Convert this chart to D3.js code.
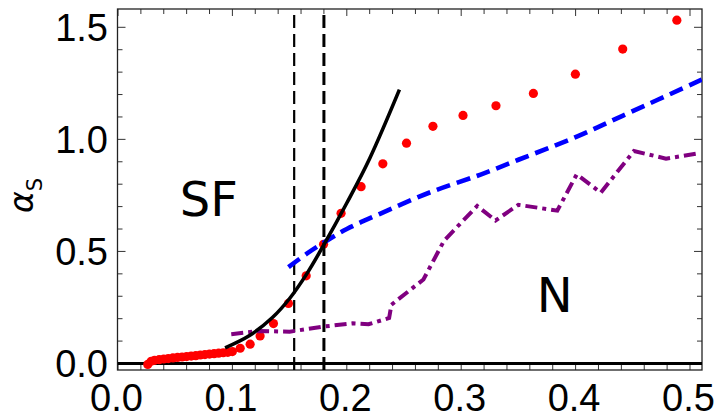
<!DOCTYPE html>
<html><head><meta charset="utf-8">
<script src="https://cdn.jsdelivr.net/npm/d3@7/dist/d3.min.js"></script>
<style>body{margin:0;background:#fff}</style>
</head><body>
<svg id="c" width="715" height="418"></svg>
<script>
// ---- data ----
const xTickValues = [0, 0.1, 0.2, 0.3, 0.4, 0.5];
const xTickLabels = ["0.0", "0.1", "0.2", "0.3", "0.4", "0.5"];
const yTickValues = [0, 0.5, 1.0, 1.5];
const yTickLabels = ["0.0", "0.5", "1.0", "1.5"];

// red dots (data points)
const dotX = [0.026,0.029,0.032,0.036,0.040,0.044,0.048,0.052,0.056,0.060,0.064,0.068,0.072,0.076,0.080,0.084,0.088,0.092,0.096,0.100,
              0.1068,0.1155,0.1242,0.1359,0.149,0.1645,0.1797,0.195,0.2125,0.2315,0.2522,0.2753,0.3016,0.3304,0.3631,0.3998,0.4412,0.4885];
const dotY = [-0.004,0.010,0.014,0.017,0.020,0.022,0.025,0.027,0.029,0.031,0.033,0.035,0.038,0.040,0.042,0.044,0.046,0.048,0.050,0.053,
              0.068,0.086,0.123,0.178,0.268,0.391,0.532,0.670,0.789,0.891,0.983,1.058,1.107,1.150,1.205,1.291,1.403,1.532];

// black solid curve
const blackX = [0.0936,0.115,0.135,0.150,0.165,0.180,0.200,0.220,0.246];
const blackY = [0.070,0.125,0.205,0.290,0.400,0.530,0.716,0.915,1.222];

// blue dashed curve
const blueX = [0.149,0.165,0.180,0.200,0.229,0.273,0.317,0.350,0.400,0.441,0.511];
const blueY = [0.430,0.490,0.540,0.600,0.668,0.764,0.843,0.909,1.010,1.105,1.268];

// purple dash-dot line
const purpleX = [0.099,0.124,0.150,0.180,0.205,0.219,0.237,0.239,0.267,0.285,0.314,0.330,0.350,0.384,0.401,0.422,0.451,0.479,0.509];
const purpleY = [0.131,0.145,0.142,0.165,0.179,0.175,0.203,0.262,0.375,0.548,0.703,0.638,0.708,0.682,0.844,0.762,0.948,0.914,0.939];

// vertical dashed markers
const vlines = [0.154, 0.180];

// region labels
const regionNames = ["SF", "N"];
const regionX = [0.054, 0.366];
const regionY = [0.657, 0.230];

// ---- drawing ----
const svg = d3.select("#c");
const L = 117.5, R = 702, T = 9, B = 370;
const x = d3.scaleLinear().domain([0, 0.5]).range([118, 690]);
const y = d3.scaleLinear().domain([0, 1.5]).range([363.5, 27.3]);

svg.append("defs").append("clipPath").attr("id", "clip")
  .append("rect").attr("x", L).attr("y", T).attr("width", R - L).attr("height", B - T);

// ticks (inward)
const xMinor = x.ticks(25).filter(v => !xTickValues.some(m => Math.abs(m - v) < 1e-9));
const yMinor = y.ticks(15).filter(v => !yTickValues.some(m => Math.abs(m - v) < 1e-9));
const tickG = svg.append("g").attr("stroke", "#333").attr("stroke-width", 1);
function hTicks(vals, yy, len) {
  tickG.selectAll(null).data(vals).enter().append("line")
    .attr("x1", d => x(d)).attr("x2", d => x(d))
    .attr("y1", yy).attr("y2", yy + len);
}
function vTicks(vals, xx, len) {
  tickG.selectAll(null).data(vals).enter().append("line")
    .attr("y1", d => y(d)).attr("y2", d => y(d))
    .attr("x1", xx).attr("x2", xx + len);
}
hTicks(xTickValues, B, -8);
hTicks(xMinor.filter(v => v <= 0.51), B, -5);
hTicks(xTickValues, T, 7);
hTicks(xMinor.filter(v => v <= 0.51), T, 5);
vTicks(yTickValues, L, 8);
vTicks(yMinor, L, 5);
vTicks(yTickValues, R, -8);
vTicks(yMinor, R, -5);

// frame
svg.append("rect").attr("x", L).attr("y", T).attr("width", R - L).attr("height", B - T)
  .attr("fill", "none").attr("stroke", "#222").attr("stroke-width", 1.3);

const plot = svg.append("g").attr("clip-path", "url(#clip)");

// zero line
plot.append("line").attr("x1", L).attr("x2", R).attr("y1", y(0)).attr("y2", y(0))
  .attr("stroke", "#000").attr("stroke-width", 3.2);

// red dots
plot.selectAll("circle.d").data(dotX.map((v, i) => [v, dotY[i]])).enter().append("circle")
  .attr("cx", d => x(d[0])).attr("cy", d => y(d[1])).attr("r", 4.6).attr("fill", "#ff0000");

// vertical dashed lines
plot.selectAll("line.v").data(vlines).enter().append("line")
  .attr("x1", d => x(d)).attr("x2", d => x(d)).attr("y1", B).attr("y2", T)
  .attr("stroke", "#000").attr("stroke-width", (d, i) => i === 0 ? 2.2 : 3)
  .attr("stroke-dasharray", "13,6");

const lin = d3.line().x(d => x(d[0])).y(d => y(d[1]));
const smooth = d3.line().x(d => x(d[0])).y(d => y(d[1])).curve(d3.curveCatmullRom.alpha(0.5));

plot.append("path").datum(purpleX.map((v, i) => [v, purpleY[i]]))
  .attr("d", lin).attr("fill", "none").attr("stroke", "#800080")
  .attr("stroke-width", 4).attr("stroke-dasharray", "12,5,4,5");

plot.append("path").datum(blueX.map((v, i) => [v, blueY[i]]))
  .attr("d", smooth).attr("fill", "none").attr("stroke", "#0000ff")
  .attr("stroke-width", 4.6).attr("stroke-dasharray", "14,7");

plot.append("path").datum(blackX.map((v, i) => [v, blackY[i]]))
  .attr("d", smooth)
  .attr("fill", "none").attr("stroke", "#000").attr("stroke-width", 3.6);

// tick labels
const font = "'Liberation Sans', Arial, sans-serif";
svg.selectAll("text.xl").data(xTickValues).enter().append("text")
  .attr("x", d => x(d) - 1.5).attr("y", 411).attr("text-anchor", "middle")
  .attr("font-family", font).attr("font-size", 38).text((d, i) => xTickLabels[i]);
svg.selectAll("text.yl").data(yTickValues).enter().append("text")
  .attr("x", 108).attr("y", d => y(d) + 13.5).attr("text-anchor", "end")
  .attr("font-family", font).attr("font-size", 38).text((d, i) => yTickLabels[i]);

// axis title alpha_S
const yt = svg.append("text").attr("transform", "translate(33,213) rotate(-90)")
  .attr("font-family", "'DejaVu Sans', sans-serif").attr("font-size", 33);
yt.append("tspan").attr("font-style", "italic").text("α");
yt.append("tspan").attr("font-size", 21).attr("dy", 9).text("S");

// region labels
svg.selectAll("text.r").data(regionNames).enter().append("text")
  .attr("x", (d, i) => x(regionX[i])).attr("y", (d, i) => y(regionY[i]))
  .attr("font-family", "'DejaVu Sans', sans-serif").attr("font-size", 48).text(d => d);
</script>
</body></html>
